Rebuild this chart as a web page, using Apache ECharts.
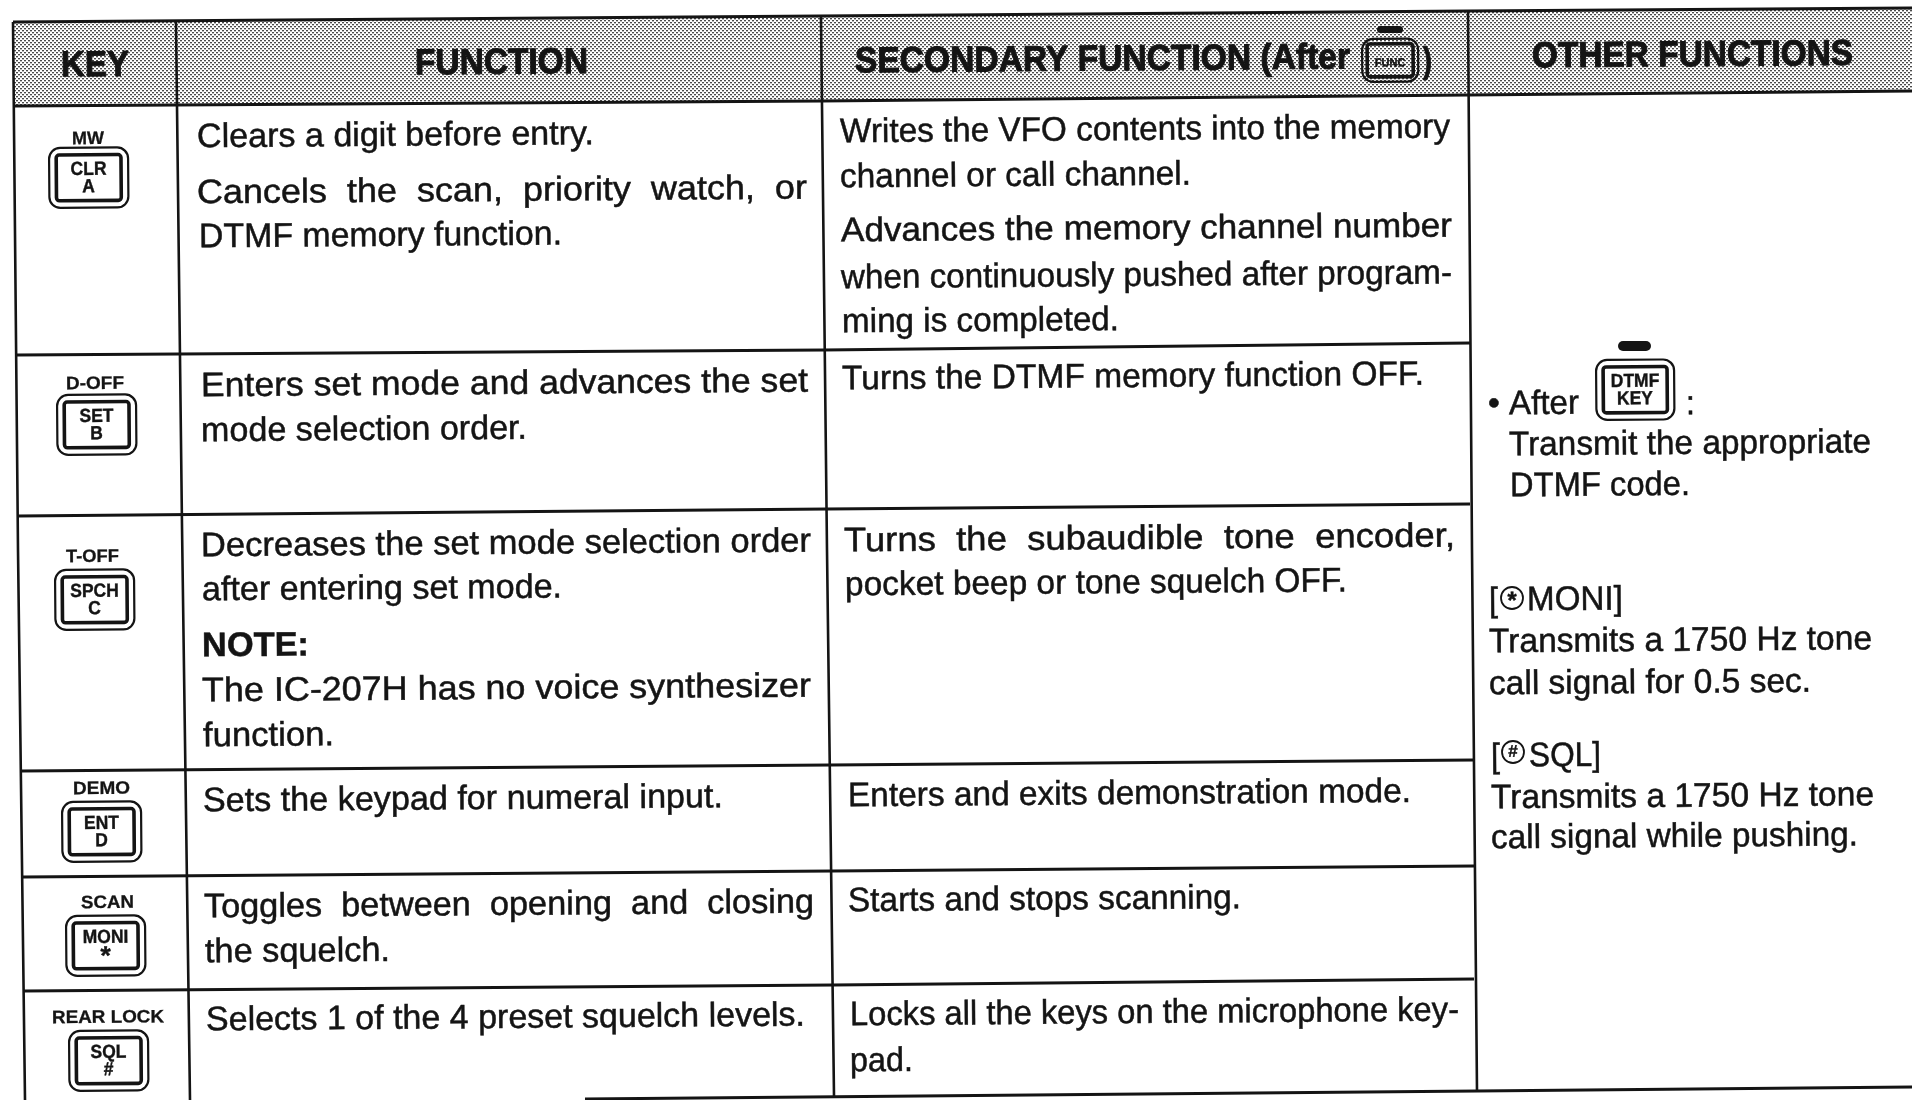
<!DOCTYPE html>
<html>
<head>
<meta charset="utf-8">
<style>html,body{margin:0;background:#fff}#main{width:1912px;height:1100px}</style>
<script src="https://cdn.jsdelivr.net/npm/echarts@6/dist/echarts.min.js"></script>
</head>
<body>
<div id="main"></div>
<script>
// table text
var headerTitles = ['KEY', 'FUNCTION', 'SECONDARY FUNCTION (After', ')', 'OTHER FUNCTIONS'];
var keyTops = ['MW', 'D-OFF', 'T-OFF', 'DEMO', 'SCAN', 'REAR LOCK'];
var keyMains = ['CLR', 'SET', 'SPCH', 'ENT', 'MONI', 'SQL'];
var keySubs = ['A', 'B', 'C', 'D', '*', '#'];
var functionLines = [
    'Clears a digit before entry.',
    'Cancels the scan, priority watch, or',
    'DTMF memory function.',
    'Enters set mode and advances the set',
    'mode selection order.',
    'Decreases the set mode selection order',
    'after entering set mode.',
    'NOTE:',
    'The IC-207H has no voice synthesizer',
    'function.',
    'Sets the keypad for numeral input.',
    'Toggles between opening and closing',
    'the squelch.',
    'Selects 1 of the 4 preset squelch levels.'
];
var secondaryLines = [
    'Writes the VFO contents into the memory',
    'channel or call channel.',
    'Advances the memory channel number',
    'when continuously pushed after program-',
    'ming is completed.',
    'Turns the DTMF memory function OFF.',
    'Turns the subaudible tone encoder,',
    'pocket beep or tone squelch OFF.',
    'Enters and exits demonstration mode.',
    'Starts and stops scanning.',
    'Locks all the keys on the microphone key-',
    'pad.'
];
var otherLines = [
    '\u2022', 'After', ':',
    'Transmit the appropriate', 'DTMF code.',
    '[', 'MONI]',
    'Transmits a 1750 Hz tone', 'call signal for 0.5 sec.',
    '[', 'SQL]',
    'Transmits a 1750 Hz tone', 'call signal while pushing.'
];

// where things sit on the scan: [left, right, baseline at left, wide spaces, bold]
var headerPos = [[61, 129, 76], [415, 588, 74], [855, 1350, 72], [1423, 1432, 72], [1532, 1853, 67]];
var functionPos = [
    [197, 594, 147], [197, 807, 203, 1], [199, 562, 247],
    [201, 808, 396], [201, 527, 441],
    [201, 811, 556], [202, 562, 600], [202, 309, 656, 0, 1], [202, 811, 701], [203, 334, 746],
    [203, 723, 811],
    [204, 814, 917, 1], [205, 390, 962],
    [206, 805, 1030]
];
var secondaryPos = [
    [840, 1450, 142], [840, 1191, 187],
    [841, 1452, 241], [841, 1452, 288], [842, 1119, 332],
    [842, 1424, 389],
    [844, 1455, 551, 1], [845, 1347, 595],
    [848, 1411, 806],
    [848, 1241, 911],
    [850, 1459, 1025], [850, 913, 1071]
];
var otherPos = [
    [1488, 1500, 414], [1509, 1579, 414], [1686, 1695, 414],
    [1509, 1871, 455], [1510, 1690, 496],
    [1489, 1498, 611], [1527, 1623, 610],
    [1489, 1872, 652], [1489, 1811, 694],
    [1491, 1500, 767], [1529, 1601, 766],
    [1491, 1874, 808], [1491, 1858, 848]
];
// outer key box: left, top
var keyPos = [[49, 148], [57, 395], [55, 570], [62, 802], [66, 916], [69, 1031]];
var keyTopPos = [[72, 104, 144], [66, 124, 389], [66, 119, 562], [73, 130, 794], [81, 134, 908], [52, 164, 1023]];

var ruleLines = [
    [[13, 22], [820, 16], [1468, 11], [1912, 8]],
    [[14, 106], [821, 101], [1467, 95], [1912, 91]],
    [[17, 355], [824, 350], [1470, 343]],
    [[18, 516], [827, 509], [1470, 504]],
    [[21, 771], [830, 765], [1474, 760]],
    [[23, 877], [832, 871], [1474, 866]],
    [[24, 991], [833, 985], [1474, 979]],
    [[585, 1099], [1477, 1091], [1912, 1087]],
    [[13, 22], [18, 550], [25, 1100]],
    [[176, 22], [182, 526], [190, 1100]],
    [[821, 17], [827, 550], [834, 1096]],
    [[1468, 11], [1472, 550], [1477, 1091]]
];

var TILT = 0.0078;
var FONT = '"Liberation Sans", Arial, sans-serif';
var INK = '#141414';

var measure = document.createElement('canvas').getContext('2d');
function textWidth(str, font) {
    measure.font = font;
    return measure.measureText(str).width;
}

// one line of text squeezed to its measured width, tilted with the scan
function line(str, x0, x1, y, size, weight, wide, heavy) {
    var text = wide ? str.replace(/ /g, '  ') : str;
    var font = (weight || 'normal') + ' ' + size + 'px ' + FONT;
    return {
        type: 'text',
        x: x0,
        y: y - size * 0.2665,
        rotation: TILT,
        scaleX: (x1 - x0) / textWidth(text, font),
        silent: true,
        style: {
            text: text,
            font: font,
            fill: INK,
            stroke: INK,
            lineWidth: heavy === undefined ? 0.5 : heavy,
            align: 'left',
            verticalAlign: 'middle'
        }
    };
}

function centered(str, cx, y, size, squeeze) {
    return {
        type: 'text', x: cx, y: y - size * 0.3465, rotation: TILT, scaleX: squeeze || 1, silent: true,
        style: {
            text: str, font: 'bold ' + size + 'px ' + FONT, fill: INK, stroke: INK, lineWidth: 0.4,
            align: 'center', verticalAlign: 'middle'
        }
    };
}

function halftone() {
    var c = document.createElement('canvas');
    c.width = 4;
    c.height = 4;
    var g = c.getContext('2d');
    g.fillStyle = '#ffffff';
    g.fillRect(0, 0, 4, 4);
    g.fillStyle = '#4a4a4a';
    g.fillRect(0, 0, 2, 1);
    g.fillRect(2, 2, 2, 1);
    g.fillStyle = '#bdbdbd';
    g.fillRect(0, 1, 2, 1);
    g.fillRect(2, 3, 2, 1);
    return c;
}

function keyBox(x, y, w, h, main, sub, size, clear) {
    var inset = w * 0.09;
    var face = clear ? null : '#fff';
    var out = [
        { type: 'rect', silent: true, shape: { x: x, y: y, width: w, height: h, r: 11 },
            style: { fill: face, stroke: INK, lineWidth: 2.2 }, rotation: TILT, originX: x, originY: y },
        { type: 'rect', silent: true, shape: { x: x + inset, y: y + inset, width: w - 2 * inset, height: h - 2 * inset, r: 3 },
            style: { fill: face, stroke: INK, lineWidth: 3.6 }, rotation: TILT, originX: x, originY: y }
    ];
    if (sub) {
        out.push(centered(main, x + w / 2, y + h * 0.47, size, 0.92));
        if (sub === '*') {
            out.push(centered(sub, x + w / 2, y + h * 0.84, size * 1.4));
        } else {
            out.push(centered(sub, x + w / 2, y + h * 0.76, size, 0.92));
        }
    } else {
        out.push(centered(main, x + w / 2, y + h * 0.66, size, 0.92));
    }
    return out;
}

var elements = [];
elements.push({
    type: 'polygon',
    silent: true,
    shape: { points: [[13, 22], [820, 16], [1468, 11], [1912, 8], [1912, 91], [1467, 95], [821, 101], [14, 106]] },
    style: { fill: { image: halftone(), repeat: 'repeat' } }
});
ruleLines.forEach(function (pts, i) {
    elements.push({
        type: 'polyline',
        silent: true,
        shape: { points: pts },
        style: { stroke: INK, lineWidth: i < 8 ? 3 : 2.6, fill: null }
    });
});

headerTitles.forEach(function (t, i) {
    var p = headerPos[i];
    elements.push(line(t, p[0], p[1], p[2], 36, 'bold', 0, 1));
});
functionLines.forEach(function (t, i) {
    var p = functionPos[i];
    elements.push(line(t, p[0], p[1], p[2], 34, p[4] ? 'bold' : 'normal', p[3]));
});
secondaryLines.forEach(function (t, i) {
    var p = secondaryPos[i];
    elements.push(line(t, p[0], p[1], p[2], 34, 'normal', p[3]));
});
otherLines.forEach(function (t, i) {
    var p = otherPos[i];
    elements.push(line(t, p[0], p[1], p[2], 34));
});

keyMains.forEach(function (t, i) {
    var p = keyPos[i], q = keyTopPos[i];
    elements.push(line(keyTops[i], q[0], q[1], q[2], 18, 'bold', 0, 0.3));
    elements = elements.concat(keyBox(p[0], p[1], 79, 60, t, keySubs[i], 19));
});

// key caps inside the header and the last column
elements = elements.concat(keyBox(1362, 39, 56, 43, 'FUNC', '', 12, true));
elements.push({ type: 'rect', silent: true, shape: { x: 1377, y: 26, width: 26, height: 7, r: 3.5 }, style: { fill: INK } });
elements = elements.concat(keyBox(1596, 360, 78, 60, 'DTMF', 'KEY', 19));
elements.push({ type: 'rect', silent: true, shape: { x: 1618, y: 341, width: 33, height: 10, r: 5 }, style: { fill: INK } });

// circled marks in [*MONI] and [#SQL]
[[1512, 598, '*', 24, 12], [1513, 752, '#', 17, 6]].forEach(function (m) {
    elements.push({ type: 'circle', silent: true, shape: { cx: m[0], cy: m[1], r: 11 }, style: { fill: '#fff', stroke: INK, lineWidth: 1.8 } });
    elements.push(centered(m[2], m[0], m[1] + m[4], m[3]));
});

var myChart = echarts.init(document.getElementById('main'));
myChart.setOption({
    animation: false,
    backgroundColor: '#ffffff',
    graphic: { elements: elements }
});
</script>
</body>
</html>
